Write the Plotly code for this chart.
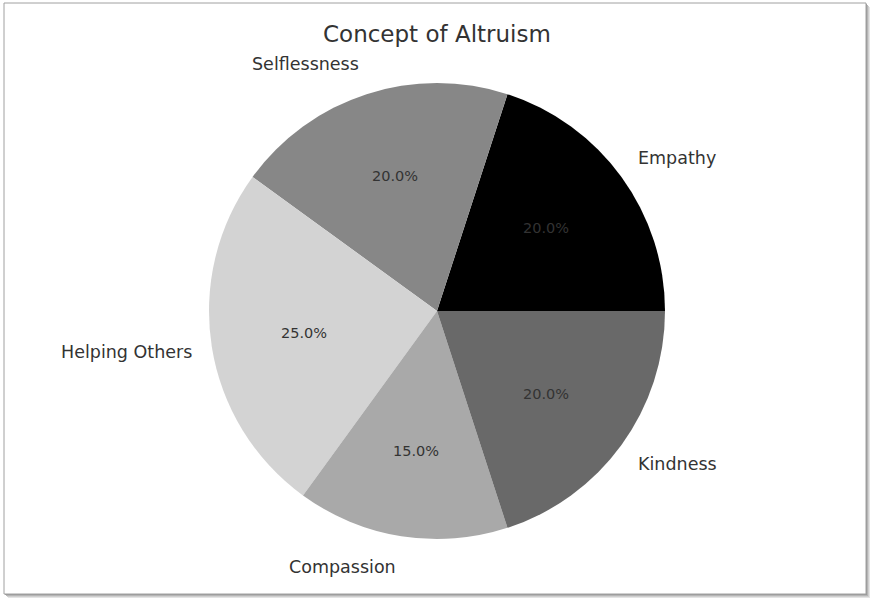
import math
import plotly.graph_objects as go

# Components of altruism and their shares (%)
labels = ["Empathy", "Selflessness", "Helping Others", "Compassion", "Kindness"]
shares = [20, 20, 25, 15, 20]
colors = ["#000000", "#878787", "#d3d3d3", "#a9a9a9", "#696969"]

W, H = 870, 599
cx, cy = 437, 311          # pie centre in pixels (from top-left)
rx, ry = 224, 236          # reach used for placing text around the pie
r_pie = 228

total = sum(shares)

fig = go.Figure()
fig.add_trace(go.Pie(
    labels=labels,
    values=shares,
    sort=False,
    direction="counterclockwise",
    # first slice begins at 3 o'clock and runs counterclockwise
    rotation=90 - 360 * shares[0] / total,
    marker=dict(colors=colors, line=dict(width=0)),
    textinfo="none",
    hoverinfo="label+percent",
    showlegend=False,
    domain=dict(x=[(cx - r_pie) / W, (cx + r_pie) / W],
                y=[(H - cy - r_pie) / H, (H - cy + r_pie) / H]),
))

# Slice labels outside (1.1 r) and percentages inside (0.6 r), at each slice's mid-angle
start = 0.0
annotations = []
for name, v in zip(labels, shares):
    frac = v / total
    mid = math.radians((start + frac / 2) * 360)
    start += frac
    c, s = math.cos(mid), math.sin(mid)
    lx = cx + 1.1 * rx * c
    ly = cy - 1.1 * ry * s
    annotations.append(dict(
        x=lx / W, y=1 - ly / H, xref="paper", yref="paper",
        text=name, showarrow=False,
        xanchor="left" if c > 0 else "right", yanchor="middle",
        font=dict(family="DejaVu Sans", size=17.5, color="#333333"),
    ))
    px = cx + 0.6 * rx * c
    py = cy - 0.6 * ry * s
    annotations.append(dict(
        x=px / W, y=1 - py / H, xref="paper", yref="paper",
        text=f"{frac * 100:.1f}%", showarrow=False,
        xanchor="center", yanchor="middle",
        font=dict(family="DejaVu Sans", size=14.5, color="#333333"),
    ))

annotations.append(dict(
    x=437 / W, y=1 - 34 / H, xref="paper", yref="paper",
    text="Concept of Altruism", showarrow=False,
    xanchor="center", yanchor="middle",
    font=dict(family="DejaVu Sans", size=23, color="#333333"),
))

# Framed card with a soft drop shadow
shapes = []
for off, col in [(4, "#e4e4e4"), (3, "#cfcfcf"), (2, "#b5b5b5"), (1, "#9a9a9a")]:
    shapes.append(dict(type="rect", xref="paper", yref="paper",
                       x0=(4 + off) / W, x1=(866 + off) / W,
                       y0=1 - (594 + off) / H, y1=1 - (3 + off) / H,
                       line=dict(width=0), fillcolor=col, layer="below"))
shapes.append(dict(type="rect", xref="paper", yref="paper",
                   x0=4 / W, x1=866 / W, y0=1 - 594 / H, y1=1 - 3 / H,
                   line=dict(color="#a0a0a0", width=1), fillcolor="white",
                   layer="below"))

fig.update_layout(
    width=W, height=H,
    margin=dict(l=0, r=0, t=0, b=0),
    paper_bgcolor="white",
    plot_bgcolor="white",
    annotations=annotations,
    shapes=shapes,
)

fig.write_html("out.html")
